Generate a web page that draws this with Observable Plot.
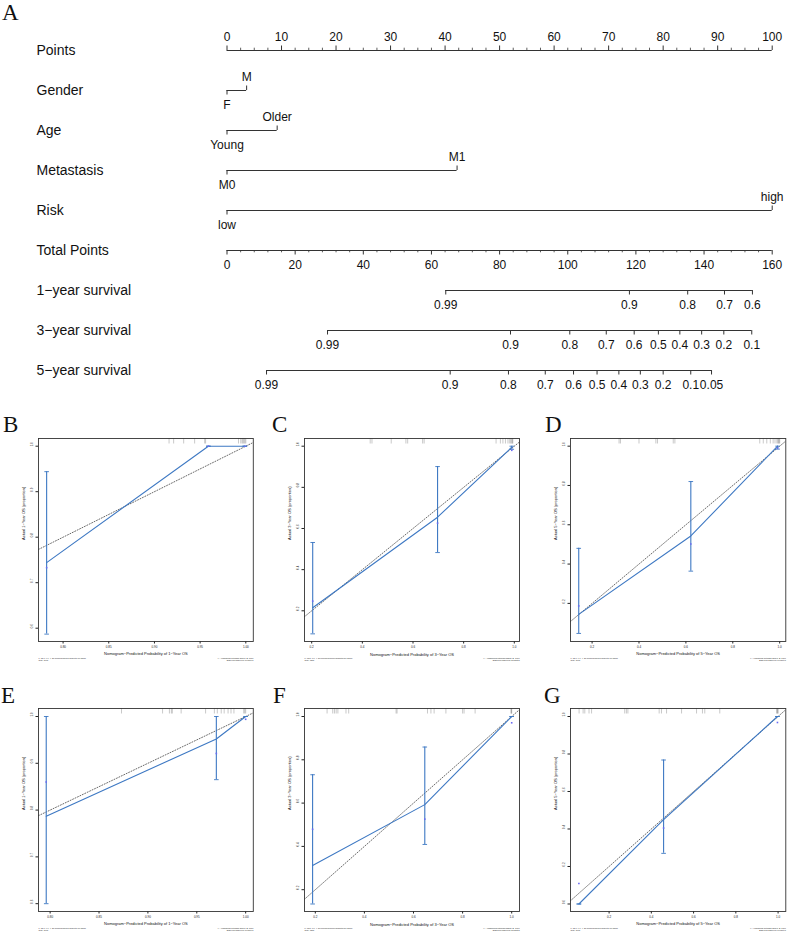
<!DOCTYPE html>
<html><head><meta charset="utf-8">
<script src="https://cdn.jsdelivr.net/npm/d3@7"></script>
<script src="https://cdn.jsdelivr.net/npm/@observablehq/plot@0.6"></script>
<style>
html,body{margin:0;padding:0;background:#fff;}
#root{position:relative;width:794px;height:932px;overflow:hidden;background:#fff;}
.panel{position:absolute;}
.letter{position:absolute;font-family:"Liberation Serif","Times New Roman",serif;font-size:23px;line-height:23px;color:#111;}
</style></head><body><div id="root"></div>
<script>
// ---------------- Panel A: nomogram data ----------------
const nomoRows = ["Points","Gender","Age","Metastasis","Risk","Total Points","1−year survival","3−year survival","5−year survival"];
const pointsMajor = [0,10,20,30,40,50,60,70,80,90,100];
const genderLevels = ["F","M"];          const genderPoints = [0, 3.6];
const ageLevels = ["Young","Older"];     const agePoints = [0, 9.2];
const metastasisLevels = ["M0","M1"];    const metastasisPoints = [0, 42.2];
const riskLevels = ["low","high"];       const riskPoints = [0, 100];
const totalMajor = [0,20,40,60,80,100,120,140,160];
const surv1Labels = ["0.99","0.9","0.8","0.7","0.6"];
const surv1Total  = [64.2,118.1,135.2,146.0,154.2];
const surv3Labels = ["0.99","0.9","0.8","0.7","0.6","0.5","0.4","0.3","0.2","0.1"];
const surv3Total  = [29.5,83.2,100.6,111.3,119.5,126.6,132.9,139.3,145.8,154.0];
const surv5Labels = ["0.99","0.9","0.8","0.7","0.6","0.5","0.4","0.3","0.2","0.1","0.05"];
const surv5Total  = [11.6,65.5,82.6,93.4,101.7,108.6,115.0,121.3,128.0,136.1,142.2];

// ---------------- Panels B-G: calibration data ----------------
const bPred=[0.782,0.959,0.999], bLine=[0.744,1.0,1.0], bObs=[0.733,1.0,1.0], bLow=[0.587,1.0,1.0], bHigh=[0.944,1.0,1.0];
const bRug=[0.916,0.921,0.932,0.944,0.955,0.956,0.992,0.9945,0.996,0.997,0.998,0.999,1.0];
const cPred=[0.204,0.697,0.990], cLine=[0.215,0.655,0.995], cObs=[0.247,0.626,0.98], cLow=[0.088,0.483,0.985], cHigh=[0.532,0.901,1.0];
const cRug=[0.431,0.438,0.514,0.572,0.579,0.638,0.644,0.928,0.945,0.955,0.965,0.975,0.982,0.986,0.99,0.992,0.994];
const dPred=[0.143,0.621,0.991], dLine=[0.144,0.543,1.0], dObs=[0.187,0.502,0.99], dLow=[0.047,0.364,0.985], dHigh=[0.480,0.820,1.0];
const dRug=[0.315,0.321,0.4,0.472,0.479,0.546,0.553,0.915,0.93,0.945,0.96,0.972,0.98,0.988,0.992,0.995,0.998,1.0];
const ePred=[0.796,0.970,1.0], eLine=[0.787,0.952,1.0], eObs=[0.860,0.921,0.994], eLow=[0.6,0.865,1.0], eHigh=[1.0,1.0,1.0];
const eRug=[0.873,0.915,0.922,0.924,0.925,0.934,0.959,0.968,0.971,0.975,0.978,0.982,0.985,0.988,0.998,0.999,1.0];
const fPred=[0.189,0.646,1.0], fLine=[0.312,0.593,1.0], fObs=[0.479,0.526,0.971], fLow=[0.134,0.409,1.0], fHigh=[0.731,0.859,1.0];
const fRug=[0.248,0.271,0.278,0.285,0.292,0.325,0.336,0.529,0.533,0.657,0.671,0.684,0.732,0.8,0.806,0.851,0.997,0.999,1.0];
const gPred=[0.057,0.458,0.997], gLine=[0.0,0.45,1.0], gObs=[0.109,0.405,0.968], gLow=[0.0,0.27,1.0], gHigh=[0.0,0.768,1.0];
const gRug=[0.058,0.077,0.085,0.105,0.117,0.274,0.282,0.289,0.437,0.448,0.472,0.543,0.614,0.642,0.653,0.724,0.993,0.996,0.998,1.0];

const ticks1yX=[0.80,0.85,0.90,0.95,1.00], ticks1yY=[0.6,0.7,0.8,0.9,1.0];
const ticksX=[0.2,0.4,0.6,0.8,1.0], ticksY=[0.2,0.4,0.6,0.8,1.0], ticksYG=[0.0,0.2,0.4,0.6,0.8,1.0];

const footLeft = "n=62 d=9 p=4, 20.6666666666667 subjects per group\nGray: ideal";
const footRight = "X − resampling optimism added, B=1000\nBased on observed−predicted";

// ---------------- build ----------------
const root = document.getElementById("root");
function place(node, left, top){ const d=document.createElement("div"); d.className="panel"; d.style.left=left+"px"; d.style.top=top+"px"; d.appendChild(node); root.appendChild(d); }
function letter(t, left, top){ const d=document.createElement("div"); d.className="letter"; d.textContent=t; d.style.left=left+"px"; d.style.top=top+"px"; root.appendChild(d); }

const totalMax = totalMajor[totalMajor.length-1];
const toPts = t => t * 100 / totalMax;
const segments=[], tUp=[], tDown=[], mUp=[], mDown=[], lAbove=[], lBelow=[];
segments.push({row:"Points", x1:pointsMajor[0], x2:pointsMajor[pointsMajor.length-1]});
pointsMajor.forEach(v=>{tUp.push({row:"Points",x:v}); lAbove.push({row:"Points",x:v,label:String(v)});});
d3.range(0,100,2.5).filter(v=>v%10!==0).forEach(v=>mUp.push({row:"Points",x:v}));
[["Gender",genderLevels,genderPoints],["Age",ageLevels,agePoints],["Metastasis",metastasisLevels,metastasisPoints],["Risk",riskLevels,riskPoints]].forEach(([row,lv,pt])=>{
  segments.push({row,x1:d3.min(pt),x2:d3.max(pt)});
  lv.forEach((l,i)=>{ if(i%2){tUp.push({row,x:pt[i]}); lAbove.push({row,x:pt[i],label:l});} else {tDown.push({row,x:pt[i]}); lBelow.push({row,x:pt[i],label:l});} });
});
segments.push({row:"Total Points", x1:0, x2:toPts(totalMax)});
totalMajor.forEach(v=>{tDown.push({row:"Total Points",x:toPts(v)}); lBelow.push({row:"Total Points",x:toPts(v),label:String(v)});});
d3.range(0,totalMax,4).filter(v=>v%20!==0).forEach(v=>mDown.push({row:"Total Points",x:toPts(v)}));
[["1−year survival",surv1Labels,surv1Total],["3−year survival",surv3Labels,surv3Total],["5−year survival",surv5Labels,surv5Total]].forEach(([row,lb,tt])=>{
  segments.push({row,x1:toPts(d3.min(tt)),x2:toPts(d3.max(tt))});
  lb.forEach((l,i)=>{tDown.push({row,x:toPts(tt[i])}); lBelow.push({row,x:toPts(tt[i]),label:l});});
});

const ink="#333";
const nomo = Plot.plot({
  width:794, height:400, marginLeft:226.5, marginRight:22.3, marginTop:47, marginBottom:27,
  x:{domain:[0,100], axis:null},
  y:{type:"band", domain:nomoRows, paddingInner:1, paddingOuter:0, axis:null},
  style:{fontFamily:"'Liberation Sans',Arial,sans-serif", fontSize:"12px", color:"#111", background:"transparent", overflow:"visible"},
  marks:[
    Plot.ruleY(segments,{y:"row",x1:"x1",x2:"x2",stroke:ink,strokeWidth:1}),
    Plot.tickX(tUp,{x:"x",y:"row",insetTop:-4.5,insetBottom:0,stroke:ink,strokeWidth:1}),
    Plot.tickX(tDown,{x:"x",y:"row",insetTop:0,insetBottom:-4.5,stroke:ink,strokeWidth:1}),
    Plot.tickX(mUp,{x:"x",y:"row",insetTop:-2.3,insetBottom:0,stroke:ink,strokeWidth:0.8}),
    Plot.tickX(mDown,{x:"x",y:"row",insetTop:0,insetBottom:-2.3,stroke:ink,strokeWidth:0.8}),
    Plot.text(lAbove,{x:"x",y:"row",text:"label",dy:-13.5,fill:"#111"}),
    Plot.text(lBelow,{x:"x",y:"row",text:"label",dy:14.5,fill:"#111"}),
    Plot.text(nomoRows,{y:d=>d,text:d=>d,frameAnchor:"left",textAnchor:"start",dx:36-226.5,fontSize:14,fill:"#111"})
  ]
});
place(nomo,0,0);

// ---------------- calibration panels ----------------
const blue="#3d78c3";
const hline={draw(ctx,size){const r=Math.sqrt(size/Math.PI); ctx.moveTo(-r,0); ctx.lineTo(r,0);}};
function calib(cfg){
  const [fx,fy,fw,fh]=cfg.frame;
  const mL=30,mR=8,mT=6,mB=30;
  const rows=cfg.pred.map((p,i)=>({pred:p,line:cfg.line[i],obs:cfg.obs[i],lo:cfg.low[i],hi:cfg.high[i]}));
  const caps=rows.flatMap(r=>[{pred:r.pred,y:r.lo},{pred:r.pred,y:r.hi}]);
  const fmtX=d3.format(cfg.xFormat), fmtY=d3.format(".1f");
  const svg=Plot.plot({
    width:mL+fw+mR, height:mT+fh+mB, marginLeft:mL, marginRight:mR, marginTop:mT, marginBottom:mB,
    style:{fontFamily:"'Liberation Sans',Arial,sans-serif", fontSize:"3px", color:"#222", background:"transparent", overflow:"visible"},
    x:{domain:cfg.xDomain, ticks:cfg.xTicks, tickFormat:fmtX, tickSize:2.5, tickPadding:1.5, label:null},
    y:{domain:cfg.yDomain, ticks:cfg.yTicks, tickFormat:()=>"", tickSize:2.5, label:null},
    marks:[
      Plot.line(cfg.xDomain,{x:d=>d,y:d=>d,stroke:"#444",strokeWidth:0.8,strokeDasharray:"1,1.7",clip:true}),
      Plot.tickX(cfg.rug,{x:d=>d,insetBottom:fh-5.5,stroke:"#777",strokeWidth:0.5,strokeOpacity:0.8}),
      Plot.ruleX(rows,{x:"pred",y1:"lo",y2:"hi",stroke:blue,strokeWidth:1.1}),
      Plot.dot(caps,{x:"pred",y:"y",symbol:hline,r:2.3,stroke:blue,fill:"none",strokeWidth:0.9}),
      Plot.line(rows,{x:"pred",y:"line",stroke:blue,strokeWidth:1.1}),
      Plot.dot(rows,{x:"pred",y:"obs",symbol:"square",r:0.9,fill:"#6a6af2",stroke:"none"}),
      Plot.frame({stroke:"#333",strokeWidth:0.9}),
      Plot.text(cfg.yTicks,{y:d=>d,text:d=>fmtY(d),frameAnchor:"left",rotate:-90,dx:-6.5,fontSize:3}),
      Plot.text([cfg.xTitle],{text:d=>d,frameAnchor:"bottom",dy:14,fontSize:4,fill:"#111"}),
      Plot.text([cfg.yTitle],{text:d=>d,frameAnchor:"left",rotate:-90,dx:-14.5,fontSize:4,fill:"#111"}),
      Plot.text([footLeft],{text:d=>d,frameAnchor:"bottom-left",textAnchor:"start",lineAnchor:"top",dy:15.5,fontSize:2,lineHeight:1.3,fill:"#222"}),
      Plot.text([footRight],{text:d=>d,frameAnchor:"bottom-right",textAnchor:"end",lineAnchor:"top",dy:15.5,fontSize:2,lineHeight:1.3,fill:"#222"})
    ]
  });
  place(svg,fx-mL,fy-mT);
}
const t1x="Nomogram−Predicted Probability of 1−Year OS", t3x="Nomogram−Predicted Probability of 3−Year OS", t5x="Nomogram−Predicted Probability of 5−Year OS";
const t1y="Actual 1−Year OS (proportion)", t3y="Actual 3−Year OS (proportion)", t5y="Actual 5−Year OS (proportion)";
calib({frame:[37.7,438,214.8,203], xDomain:[0.7731,1.0082], yDomain:[0.5708,1.0169], xTicks:ticks1yX, yTicks:ticks1yY, xFormat:".2f",
  pred:bPred,line:bLine,obs:bObs,low:bLow,high:bHigh,rug:bRug,xTitle:t1x,yTitle:t1y});
calib({frame:[303.5,438,215,203], xDomain:[0.1716,1.0205], yDomain:[0.0508,1.0374], xTicks:ticksX, yTicks:ticksY, xFormat:".1f",
  pred:cPred,line:cLine,obs:cObs,low:cLow,high:cHigh,rug:cRug,xTitle:t3x,yTitle:t3y});
calib({frame:[569.7,438,215.3,203], xDomain:[0.1079,1.026], yDomain:[0.0061,1.039], xTicks:ticksX, yTicks:ticksY, xFormat:".1f",
  pred:dPred,line:dLine,obs:dObs,low:dLow,high:dHigh,rug:dRug,xTitle:t5x,yTitle:t5y});
calib({frame:[37.7,708,214.8,203], xDomain:[0.7881,1.0078], yDomain:[0.5833,1.0171], xTicks:ticks1yX, yTicks:ticks1yY, xFormat:".2f",
  pred:ePred,line:eLine,obs:eObs,low:eLow,high:eHigh,rug:eRug,xTitle:t1x,yTitle:t1y});
calib({frame:[303.5,708,215,203], xDomain:[0.156,1.0318], yDomain:[0.0993,1.037], xTicks:ticksX, yTicks:ticksY, xFormat:".1f",
  pred:fPred,line:fLine,obs:fObs,low:fLow,high:fHigh,rug:fRug,xTitle:t3x,yTitle:t3y});
calib({frame:[569.7,708,215.3,203], xDomain:[0.0173,1.0365], yDomain:[-0.04,1.0427], xTicks:ticksX, yTicks:ticksYG, xFormat:".1f",
  pred:gPred,line:gLine,obs:gObs,low:gLow,high:gHigh,rug:gRug,xTitle:t5x,yTitle:t5y});

letter("A",2,1); letter("B",3,413); letter("C",272,413); letter("D",545,413);
letter("E",1,684); letter("F",273,684); letter("G",544,684);
</script></body></html>
